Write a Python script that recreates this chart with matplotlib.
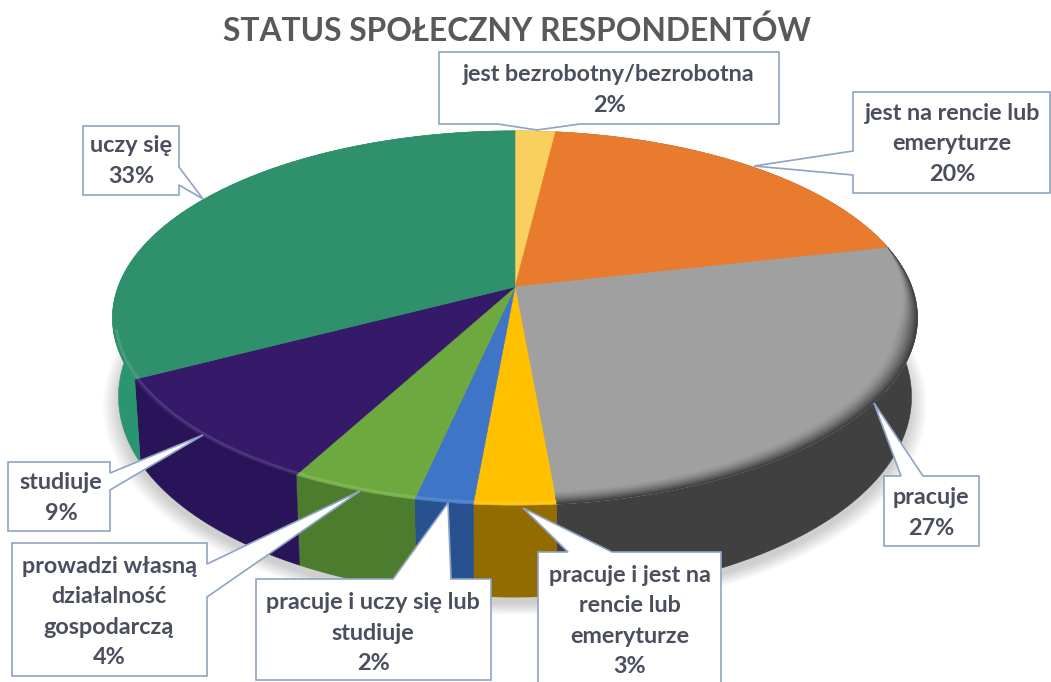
# plot.py
# 3D-looking pie of respondents' social status, drawn as projected polygons.
import numpy as np
import matplotlib
matplotlib.use("Agg")
import matplotlib.pyplot as plt
from matplotlib.colors import to_rgb
from matplotlib.patches import Polygon

# ── data ────────────────────────────────────────────────────────────
categories = [
    "jest bezrobotny/bezrobotna",
    "jest na rencie lub\nemeryturze",
    "pracuje",
    "pracuje i jest na\nrencie lub\nemeryturze",
    "pracuje i uczy się lub\nstudiuje",
    "prowadzi własną\ndziałalność\ngospodarczą",
    "studiuje",
    "uczy się",
]
values = [1.9, 19.5, 27.2, 2.8, 2.0, 4.4, 9.45, 32.75]
title = "STATUS SPOŁECZNY RESPONDENTÓW"

# ── styles ──────────────────────────────────────────────────────────
top_colors = ["#F9CF5E", "#E97B2E", "#A0A0A0", "#FFC000", "#3F75C6", "#6EA93F", "#351A69", "#2F906C"]
side_colors = ["#B08E30", "#A85820", "#404040", "#936C00", "#27518F", "#4E7C2E", "#2A1459", "#2B9470"]
TEXT_COL = "#4A4E5E"
BOX_COL = "#8FA3C6"

# box (x0, y0, x1, y1), pointer (edge, start, end, tip x, tip y)
boxes = [
    ((439, 52, 779, 124), ("bottom", 498, 580, 537, 130)),
    ((853, 92, 1050, 193), ("left", 151, 175, 754, 166)),
    ((884, 476, 979, 546), ("top", 901, 923, 874, 403)),
    ((538, 552, 721, 692), ("top", 568, 612, 523, 508)),
    ((256, 579, 491, 680), ("top", 393, 451, 448, 503)),
    ((12, 543, 207, 676), ("right", 564, 597, 360, 491)),
    ((8, 462, 110, 531), ("right", 473, 490, 203, 435)),
    ((83, 126, 179, 195), ("right", 167, 185, 203, 199)),
]
text_centers = [(609, 90), (952, 144), (931, 513), (630, 621),
                (373, 633), (109, 612), (61, 498), (131, 161)]

# projection of the pie's unit disc on to the picture
CX, CY = 515, 287
KP, AY, BX = 0.1656, 182, 397


def project(u, v):
    w = 1 + KP * v
    return CX + BX * u / w, CY - AY * v / w


def rim(t0, t1, r=1.0, n=80):
    ang = np.radians(np.linspace(t0, t1, n))
    return r * np.sin(ang), r * np.cos(ang)


def lower(u, v):
    x, y = project(u, v)
    return CX + (x - CX) * 0.985, y + 76 - 16 * v


def mix(a, b, f):
    a, b = np.array(to_rgb(a)), np.array(to_rgb(b))
    return tuple(a + (b - a) * f)


fig = plt.figure(figsize=(10.51, 6.82), dpi=100)
ax = fig.add_axes([0, 0, 1, 1])
ax.set_xlim(0, 1051)
ax.set_ylim(682, 0)
ax.axis("off")

# soft shadow
for i in range(12):
    u, v = rim(0, 360, 1.0 + i * 0.0035, 200)
    x, y = lower(u, v)
    ax.add_patch(Polygon(np.c_[x, y + 7], fc="black", ec="none", alpha=0.014, zorder=1))

bounds = np.cumsum([0] + values) / sum(values) * 360

# side walls
for i, col in enumerate(side_colors):
    u, v = rim(bounds[i], bounds[i + 1])
    xt, yt = project(u, v)
    xb, yb = lower(u, v)
    ax.add_patch(Polygon(np.r_[np.c_[xt, yt], np.c_[xb, yb][::-1]], fc=col, ec=col, lw=0.4, zorder=2))

# top slices
for i, col in enumerate(top_colors):
    u, v = rim(bounds[i], bounds[i + 1])
    x, y = project(np.r_[0, u], np.r_[0, v])
    ax.add_patch(Polygon(np.c_[x, y], fc=col, ec=col, lw=0.4, zorder=3))

# bevel: grey slice fades in to its wall, tapering off towards the back
steps = 12
uo, vo = rim(bounds[2], bounds[3])
xo, yo = project(uo, vo)
taper = np.clip((-vo + 0.25) / 0.5, 0, 1)
for j in range(steps):
    r = 1 - 0.05 * (1 - j / steps) * taper
    x, y = project(uo * r, vo * r)
    shade = mix(top_colors[2], side_colors[2], ((j + 1) / steps) ** 1.5)
    ax.add_patch(Polygon(np.r_[np.c_[x, y], np.c_[xo, yo][::-1]], fc=shade, ec="none", zorder=4))

# the other front slices get a faint light edge
for i in [3, 4, 5, 6, 7]:
    u, v = rim(bounds[i], bounds[i + 1], 0.992)
    keep = v < -0.2
    x, y = project(u[keep], v[keep])
    ax.plot(x, y, color=mix(top_colors[i], "white", 0.2), lw=2.0, alpha=0.6, zorder=4,
            solid_capstyle="butt")

# callout boxes and labels
for (x0, y0, x1, y1), (edge, a, b, tx, ty) in boxes:
    if edge == "top":
        pts = [(x0, y0), (a, y0), (tx, ty), (b, y0), (x1, y0), (x1, y1), (x0, y1)]
    elif edge == "bottom":
        pts = [(x0, y0), (x1, y0), (x1, y1), (b, y1), (tx, ty), (a, y1), (x0, y1)]
    elif edge == "left":
        pts = [(x0, y0), (x1, y0), (x1, y1), (x0, y1), (x0, b), (tx, ty), (x0, a)]
    else:
        pts = [(x0, y0), (x1, y0), (x1, a), (tx, ty), (x1, b), (x1, y1), (x0, y1)]
    ax.add_patch(Polygon(pts, fc="white", ec=BOX_COL, lw=1.2, joinstyle="miter", zorder=5))

for cat, val, (tx, ty) in zip(categories, values, text_centers):
    ax.text(tx, ty, f"{cat}\n{val:.0f}%", ha="center", va="center", family="Lato", weight="bold",
            fontsize=16.8, color=TEXT_COL, linespacing=1.55, zorder=6)

ax.text(517, 31, title, ha="center", va="center", family="Lato", weight="bold",
        fontsize=22.9, color="#595959", zorder=6)

fig.savefig("out.png", dpi=100)
